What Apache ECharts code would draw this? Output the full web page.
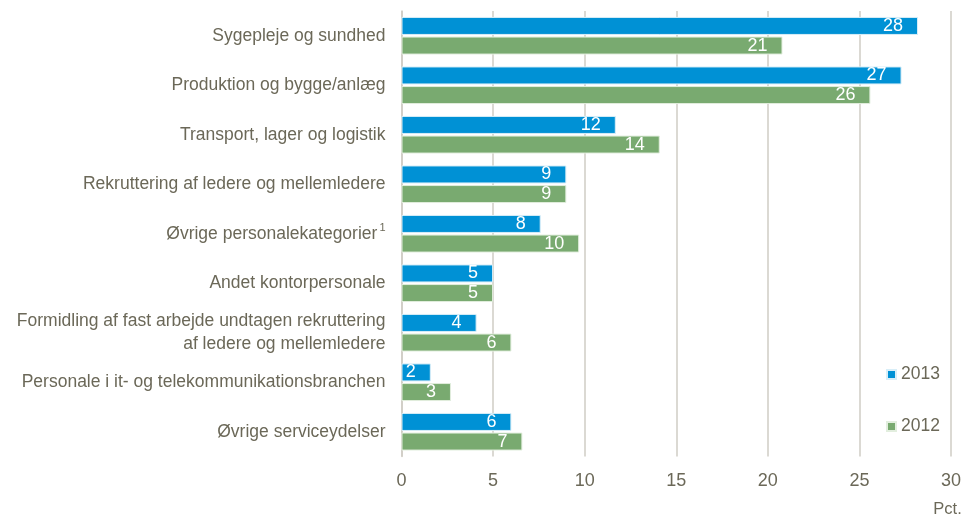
<!DOCTYPE html>
<html>
<head>
<meta charset="utf-8">
<script src="https://cdn.jsdelivr.net/npm/echarts@6/dist/echarts.min.js"></script>
<style>
html,body{margin:0;padding:0;background:#fff;}
#c{width:971px;height:519px;}
</style>
</head>
<body>
<div id="c"></div>
<script>
var categories = [
  "Sygepleje og sundhed",
  "Produktion og bygge/anlæg",
  "Transport, lager og logistik",
  "Rekruttering af ledere og mellemledere",
  "Øvrige personalekategorier",
  "Andet kontorpersonale",
  "Formidling af fast arbejde undtagen rekruttering\naf ledere og mellemledere",
  "Personale i it- og telekommunikationsbranchen",
  "Øvrige serviceydelser"
];
var values2013 = [28.2, 27.3, 11.7, 9.0, 7.6, 5.0, 4.1, 1.6, 6.0];
var values2012 = [20.8, 25.6, 14.1, 9.0, 9.7, 5.0, 6.0, 2.7, 6.6];
var xTicks = [0, 5, 10, 15, 20, 25, 30];

var textColor = '#6b6858';
var font = '"Liberation Sans", Arial, sans-serif';

var chart = echarts.init(document.getElementById('c'));
chart.setOption({
  animation: false,
  textStyle: { fontFamily: font },
  grid: { left: 401.5, right: 20, top: 11, bottom: 62.5, containLabel: false },
  legend: {
    orient: 'vertical',
    left: 881,
    top: 360.5,
    itemGap: 34,
    itemWidth: 9,
    itemHeight: 9,
    icon: 'rect',
    textStyle: { color: textColor, fontSize: 17.5, fontFamily: font },
    data: ['2013', '2012']
  },
  xAxis: {
    type: 'value',
    min: 0,
    max: 30,
    interval: 5,
    name: 'Pct.',
    nameLocation: 'end',
    nameGap: -3.5,
    nameTextStyle: { color: textColor, fontSize: 16.5, fontFamily: font, align: 'center', verticalAlign: 'top', padding: [44, 0, 0, 0] },
    axisLine: { show: false },
    axisTick: { show: false },
    axisLabel: { color: textColor, fontSize: 18, margin: 16, fontFamily: font,
      formatter: function (v) { return xTicks.indexOf(v) >= 0 ? String(v) : ''; } },
    splitLine: { show: true, lineStyle: { color: '#cfcdc4', width: 1.5 } }
  },
  yAxis: {
    type: 'category',
    inverse: true,
    data: categories,
    axisLine: { show: true, lineStyle: { color: '#cfcdc4', width: 1.5 } },
    axisTick: { show: false },
    axisLabel: {
      color: textColor, fontSize: 17.5, margin: 16, fontFamily: font, lineHeight: 23, align: 'right',
      formatter: function (v) {
        if (v === 'Øvrige personalekategorier') return v + '{sup|1}';
        return v;
      },
      rich: { sup: { fontSize: 11, verticalAlign: 'top', padding: [0, 0, 12, 2], color: textColor, fontFamily: font } }
    }
  },
  series: [
    {
      name: '2013',
      type: 'bar',
      data: values2013,
      barWidth: 18,
      barGap: '9%',
      itemStyle: { color: '#0091d5', borderColor: '#d8eef8', borderWidth: 1 },
      label: { show: true, position: 'insideRight', color: '#fff', fontSize: 18, fontFamily: font, distance: 15,
        formatter: function (p) { return Math.round(p.value); } }
    },
    {
      name: '2012',
      type: 'bar',
      data: values2012,
      barWidth: 18,
      itemStyle: { color: '#79aa70', borderColor: '#e2eede', borderWidth: 1 },
      label: { show: true, position: 'insideRight', color: '#fff', fontSize: 18, fontFamily: font, distance: 15,
        formatter: function (p) { return Math.round(p.value); } }
    }
  ]
});
</script>
</body>
</html>
